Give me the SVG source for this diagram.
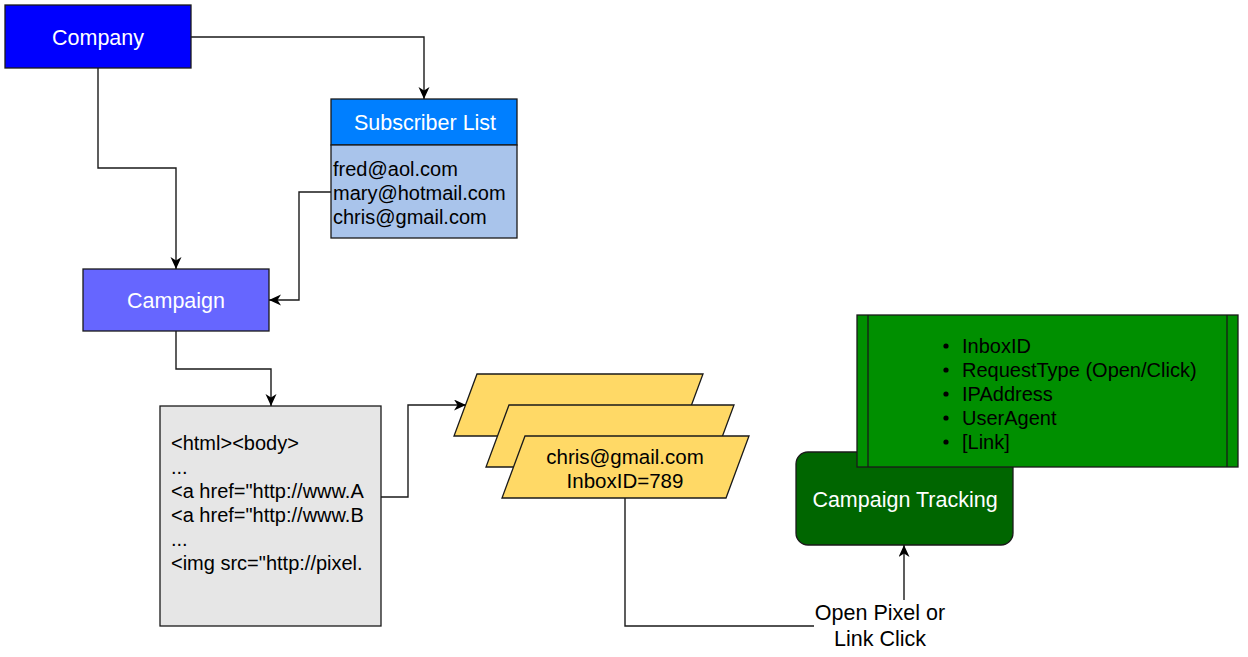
<svg xmlns="http://www.w3.org/2000/svg" width="1248" height="657" viewBox="0 0 1248 657">
<style>
text{font-family:"Liberation Sans",Arial,sans-serif}
.t{font-size:21.5px;fill:#fff;text-anchor:middle;dominant-baseline:central}
.b{font-size:20px;fill:#000}
.box{stroke:#1a1a1a;stroke-width:1.3}
.e{fill:none;stroke:#1a1a1a;stroke-width:1.4}
</style>
<defs>
<marker id="arr" markerUnits="userSpaceOnUse" markerWidth="14" markerHeight="12" refX="12" refY="5.5" orient="auto">
<path d="M0,0 L12,5.5 L0,11 L3.5,5.5 z" fill="#000"/>
</marker>
</defs>
<rect width="1248" height="657" fill="#fff"/>
<g id="company">
<rect class="box" x="5" y="5" width="186" height="63" fill="#0000FF"/>
<text class="t" x="98" y="38">Company</text>
</g>
<g id="subscriber-list">
<rect class="box" x="331" y="99" width="186" height="46" fill="#007FFF"/>
<rect class="box" x="331" y="145" width="186" height="93" fill="#A9C4EB"/>
<text class="t" x="425" y="123">Subscriber List</text>
<text class="b" x="333" y="176">fred@aol.com</text>
<text class="b" x="333" y="200">mary@hotmail.com</text>
<text class="b" x="333" y="224">chris@gmail.com</text>
</g>
<g id="campaign">
<rect class="box" x="83" y="269" width="186" height="62" fill="#6666FF"/>
<text class="t" x="176" y="301">Campaign</text>
</g>
<g id="html">
<rect class="box" x="160" y="406" width="221" height="220" fill="#E6E6E6"/>
<text class="b" x="171" y="450">&lt;html&gt;&lt;body&gt;</text>
<text class="b" x="171" y="474">...</text>
<text class="b" x="171" y="498">&lt;a href="http://www.A</text>
<text class="b" x="171" y="522">&lt;a href="http://www.B</text>
<text class="b" x="171" y="546">...</text>
<text class="b" x="171" y="570">&lt;img src="http://pixel.</text>
</g>
<g id="emails">
<polygon class="box" points="477,374 703,374 680,436 454,436" fill="#FFD966"/>
<polygon class="box" points="509,405 734,405 711,467 486,467" fill="#FFD966"/>
<polygon class="box" points="525,436 749,436 726,498 502,498" fill="#FFD966"/>
<text x="625" y="464" style="font-size:20.5px;text-anchor:middle">chris@gmail.com</text>
<text x="625" y="488" style="font-size:20.5px;text-anchor:middle">InboxID=789</text>
</g>
<g id="campaign-tracking">
<rect class="box" x="796" y="452" width="217" height="93" rx="12" fill="#006600"/>
<text class="t" x="905" y="500">Campaign Tracking</text>
</g>
<g id="tracking-fields">
<rect class="box" x="857" y="315" width="381" height="152" fill="#008F00"/>
<line class="box" x1="868" y1="315" x2="868" y2="467"/>
<line class="box" x1="1227" y1="315" x2="1227" y2="467"/>
<g fill="#000">
<circle cx="946" cy="346" r="2.6"/>
<circle cx="946" cy="370" r="2.6"/>
<circle cx="946" cy="394" r="2.6"/>
<circle cx="946" cy="418" r="2.6"/>
<circle cx="946" cy="442" r="2.6"/>
</g>
<text class="b" x="962" y="353">InboxID</text>
<text class="b" x="962" y="377">RequestType (Open/Click)</text>
<text class="b" x="962" y="401">IPAddress</text>
<text class="b" x="962" y="425">UserAgent</text>
<text class="b" x="962" y="449">[Link]</text>
</g>
<g id="connectors">
<path class="e" d="M191,37 H424 V99" marker-end="url(#arr)"/>
<path class="e" d="M98,68 V168 H176 V269" marker-end="url(#arr)"/>
<path class="e" d="M331,192 H299 V300 H269" marker-end="url(#arr)"/>
<path class="e" d="M176,331 V369 H271 V406" marker-end="url(#arr)"/>
<path class="e" d="M381,497 H408 V405 H466" marker-end="url(#arr)"/>
<path class="e" d="M625,498 V626 H904 V545" marker-end="url(#arr)"/>
<rect x="814" y="600" width="132" height="54" fill="#fff"/>
<text x="880" y="620" style="font-size:21.5px;text-anchor:middle">Open Pixel or</text>
<text x="880" y="646" style="font-size:21.5px;text-anchor:middle">Link Click</text>
</g>
</svg>
